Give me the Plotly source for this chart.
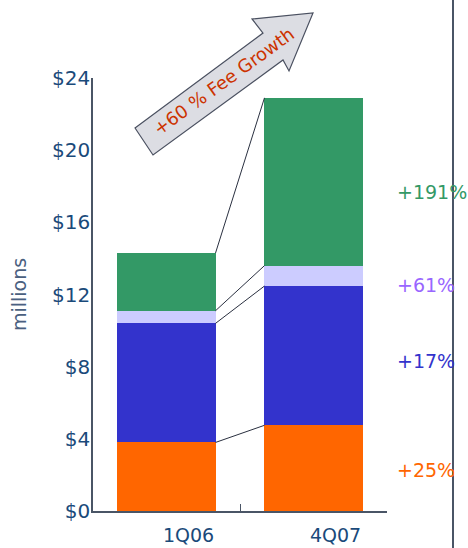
import plotly.graph_objects as go

# ---- data ----
periods = ["1Q06", "4Q07"]
series_names = ["Orange", "Blue", "Lavender", "Green"]
orange_vals = [3.8, 4.75]
blue_vals = [6.6, 7.72]
lavender_vals = [0.7, 1.13]
green_vals = [3.2, 9.3]
growth_labels = ["+25%", "+17%", "+61%", "+191%"]
growth_label_y = [2.3, 8.3, 12.5, 17.7]
y_ticks = [0, 4, 8, 12, 16, 20, 24]
y_tick_text = ["$0", "$4", "$8", "$12", "$16", "$20", "$24"]

colors = ["#FF6600", "#3333CC", "#CCCCFF", "#339966"]
label_colors = ["#FF6600", "#3333CC", "#9966FF", "#339966"]
series_vals = [orange_vals, blue_vals, lavender_vals, green_vals]

W, H = 468, 548
ML, MR, MT, MB = 93, 81, 78, 37
PW, PH = W - ML - MR, H - MT - MB
BAR_W = 0.667


def px2paper(px, py):
    return (px - ML) / PW, (H - MB - py) / PH


fig = go.Figure()
for name, vals, c in zip(series_names, series_vals, colors):
    fig.add_trace(go.Bar(x=periods, y=vals, name=name, width=BAR_W,
                         marker=dict(color=c, line=dict(width=0))))

shapes = []
# connector lines between cumulative tops
cum = [0.0, 0.0]
for vals in series_vals:
    cum = [cum[0] + vals[0], cum[1] + vals[1]]
    shapes.append(dict(type="line", xref="x", yref="y",
                       x0=0 + BAR_W / 2, y0=cum[0], x1=1 - BAR_W / 2, y1=cum[1],
                       line=dict(color="#2a3040", width=1)))

# right vertical rule
x_r, _ = px2paper(453, 0)
_, y_top = px2paper(0, 0)
_, y_bot = px2paper(0, H)
shapes.append(dict(type="line", xref="paper", yref="paper", x0=x_r, x1=x_r,
                   y0=y_bot, y1=y_top, line=dict(color="#4a5566", width=2)))

# block arrow
arrow_px = [(135, 128), (263, 33), (252, 19), (313, 13), (289, 71), (283, 60), (153, 155)]
pts = [px2paper(x, y) for x, y in arrow_px]
path = "M " + " L ".join(f"{x:.4f},{y:.4f}" for x, y in pts) + " Z"
shapes.append(dict(type="path", xref="paper", yref="paper", path=path,
                   fillcolor="#DCDDE3", line=dict(color="#4a5060", width=1.2)))

annotations = []
tx, ty = px2paper(223, 81)
annotations.append(dict(xref="paper", yref="paper", x=tx, y=ty, text="+60 % Fee Growth",
                        textangle=-36, showarrow=False, xanchor="center", yanchor="middle",
                        font=dict(family="DejaVu Sans", size=18, color="#CC3300")))
lx, _ = px2paper(395, 0)
for lab, ly, lc in zip(growth_labels, growth_label_y, label_colors):
    annotations.append(dict(xref="paper", yref="y", x=lx, y=ly, text=lab,
                            xanchor="left", yanchor="middle", showarrow=False,
                            font=dict(family="DejaVu Sans", size=19, color=lc)))

fig.update_layout(
    width=W, height=H,
    margin=dict(l=ML, r=MR, t=MT, b=MB, autoexpand=False),
    barmode="stack",
    showlegend=False,
    plot_bgcolor="white", paper_bgcolor="white",
    shapes=shapes, annotations=annotations,
    font=dict(family="DejaVu Sans"),
    xaxis=dict(type="category", range=[-0.5, 1.5], showline=True, linecolor="#4a5566",
               linewidth=1.5, ticks="inside", ticklen=7, tickcolor="#4a5566",
               tickson="boundaries", showgrid=False, ticklabelshift=22,
               ticklabelstandoff=6, automargin=False,
               tickfont=dict(size=19, color="#1a4a7a")),
    yaxis=dict(range=[0, 24], tickvals=y_ticks, ticktext=y_tick_text, showline=True,
               linecolor="#4a5566", linewidth=1.5, showgrid=False, zeroline=False,
               ticks="", ticklabelstandoff=-3, automargin=False,
               tickfont=dict(size=20, color="#1a4a7a"),
               title=dict(text="millions", font=dict(size=19, color="#4a6080"), standoff=20)),
)

fig.write_html("out.html", config={"displayModeBar": False},
               post_script="document.body.style.margin='0';document.body.style.overflow='hidden';")
